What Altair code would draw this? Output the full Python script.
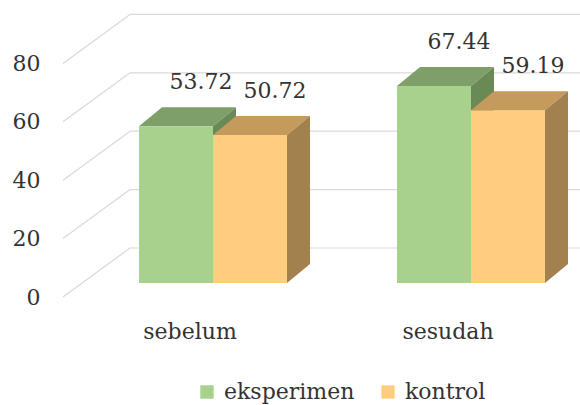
import altair as alt
import pandas as pd

# ---- data ----
categories = ["sebelum", "sesudah"]
series = ["eksperimen", "kontrol"]
eksperimen = [53.72, 67.44]
kontrol = [50.72, 59.19]
y_ticks = [0, 20, 40, 60, 80]

front_colors = ["#A9D18E", "#FFCD80"]
top_colors = ["#7E9F69", "#C49B5D"]
side_colors = ["#6A8A55", "#A2814F"]

# ---- pseudo-3D layout (styles/geometry) ----
PX = 2.92                 # px per value unit
X_MAX = 517               # horizontal extent of plot (x units = px)
WALL_DX = 67              # depth of the back wall, x units
WALL_DY = 49 / PX         # depth of the back wall, value units
SHIFT_X = 19              # bar front plane depth shift
SHIFT_Y = 14 / PX
BAR_DX = 23               # bar depth
BAR_DY = 19 / PX
GROUP0 = 131
GROUP_STEP = 258
BAR_W = 74

values = {"eksperimen": eksperimen, "kontrol": kontrol}

faces = []
labels = []
for si, s in enumerate(series):
    for ci, c in enumerate(categories):
        v = values[s][ci]
        x0 = GROUP0 + ci * GROUP_STEP - BAR_W + si * BAR_W + SHIFT_X
        x1 = x0 + BAR_W
        base = SHIFT_Y
        T = v + SHIFT_Y
        fid = f"{s}-{c}"
        # front face
        for xx in (x0, x1):
            faces.append(dict(series=s, face="front", fid=fid + "-front", x=xx, y=T, y2=base,
                              fill=front_colors[si]))
        # top face
        for xx, up, lo in ((x0, T, T), (x0 + BAR_DX, T + BAR_DY, T), (x1, T + BAR_DY, T),
                           (x1 + BAR_DX, T + BAR_DY, T + BAR_DY)):
            faces.append(dict(series=s, face="top", fid=fid + "-top", x=xx, y=up, y2=lo,
                              fill=top_colors[si]))
        # side face
        for xx, up, lo in ((x1, T, base), (x1 + BAR_DX, T + BAR_DY, base + BAR_DY)):
            faces.append(dict(series=s, face="side", fid=fid + "-side", x=xx, y=up, y2=lo,
                              fill=side_colors[si]))
        labels.append(dict(x=(x0 + x1) / 2 + 25, y=T + BAR_DY, text=f"{v:.2f}"))

faces = pd.DataFrame(faces)
labels = pd.DataFrame(labels)

grid = []
for t in y_ticks:
    grid.append(dict(x=0, x2=WALL_DX, y=t, y2=t + WALL_DY))
    grid.append(dict(x=WALL_DX, x2=X_MAX, y=t + WALL_DY, y2=t + WALL_DY))
grid = pd.DataFrame(grid)

cats = pd.DataFrame(dict(x=[GROUP0 + i * GROUP_STEP - 4 for i in range(len(categories))],
                         y=[0] * len(categories), text=categories))

FONT = "DejaVu Serif"
TXT = "#333333"

xs = alt.Scale(domain=[0, X_MAX], nice=False, zero=False)
ys = alt.Scale(domain=[0, 100], nice=False, zero=False)
yaxis = alt.Axis(values=y_ticks, title=None, grid=False, domain=False, ticks=False,
                 labelFont=FONT, labelFontSize=22, labelColor=TXT, labelPadding=23)


def X(f="x"):
    return alt.X(f"{f}:Q", scale=xs, axis=None)


def Y(f="y"):
    return alt.Y(f"{f}:Q", scale=ys, axis=yaxis)


grid_layer = alt.Chart(grid).mark_rule(color="#D9D9D9", strokeWidth=1.2).encode(
    x=X(), x2="x2:Q", y=Y(), y2="y2:Q")

eks_back = alt.Chart(faces).transform_filter(
    (alt.datum.series == "eksperimen") & (alt.datum.face != "front")
).mark_area(orient="vertical", opacity=1).encode(
    x=X(), y=Y(), y2="y2:Q", detail="fid:N", fill=alt.Fill("fill:N", scale=None))

fronts = alt.Chart(faces).transform_filter(alt.datum.face == "front").mark_area(
    orient="vertical", opacity=1).encode(
    x=X(), y=Y(), y2="y2:Q", detail="fid:N",
    color=alt.Color("series:N", scale=alt.Scale(domain=series, range=front_colors),
                    legend=alt.Legend(orient="none", legendX=133, legendY=376,
                                      direction="horizontal", title=None,
                                      symbolType="square", symbolSize=180,
                                      symbolStrokeWidth=0, symbolOpacity=1,
                                      labelFont=FONT, labelFontSize=22, labelColor=TXT,
                                      labelOffset=6, columnPadding=22, padding=0)))

kon_back = alt.Chart(faces).transform_filter(
    (alt.datum.series == "kontrol") & (alt.datum.face != "front")
).mark_area(orient="vertical", opacity=1).encode(
    x=X(), y=Y(), y2="y2:Q", detail="fid:N", fill=alt.Fill("fill:N", scale=None))

val_labels = alt.Chart(labels).mark_text(font=FONT, fontSize=22, color=TXT, dy=-25,
                                         baseline="middle").encode(
    x=X(), y=Y(), text="text:N")

cat_labels = alt.Chart(cats).mark_text(font=FONT, fontSize=22, color=TXT, dy=35,
                                       baseline="middle").encode(
    x=X(), y=Y(), text="text:N")

chart = alt.layer(grid_layer, eks_back, fronts, kon_back, val_labels, cat_labels).properties(
    width=X_MAX, height=100 * PX,
    autosize=alt.AutoSizeParams(type="none"),
    padding={"left": 63, "top": 5, "right": 0, "bottom": 405 - 5 - 100 * PX},
    background="white",
).configure_view(stroke=None)

chart.save("out.html", embed_options={"renderer": "svg", "actions": False})
